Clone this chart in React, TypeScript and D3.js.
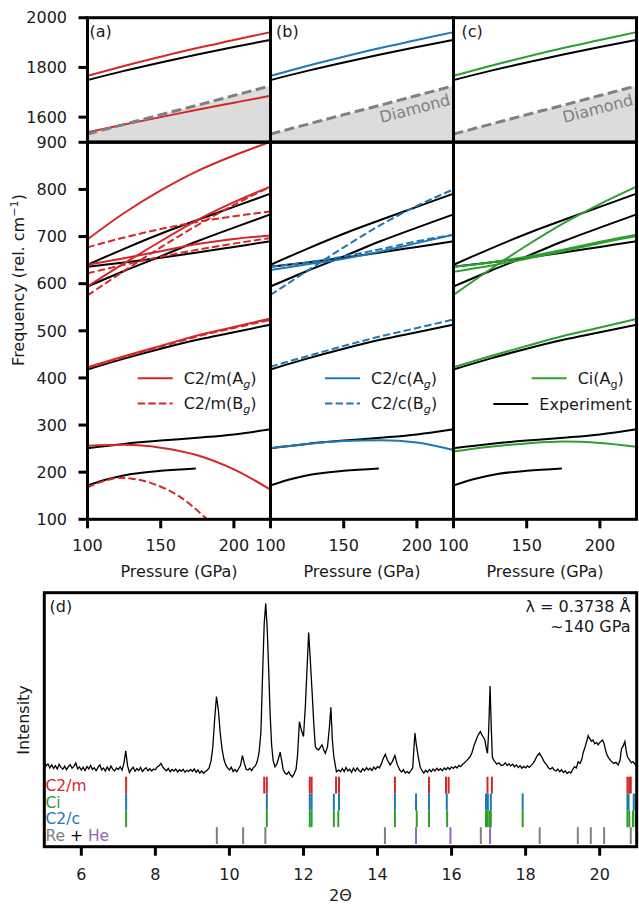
import React from 'react';
import * as d3 from 'd3';

const RED = '#d62728';
const BLUE = '#1f77b4';
const GREEN = '#2ca02c';
const GRAY = '#7f7f7f';
const PURPLE = '#9467bd';
const FONT = "'DejaVu Sans', sans-serif";
const FS = 16;

// pressure grid shared by the Raman branches (GPa)
const pressures = [100, 125, 150, 175, 200, 225];

// experiment (black), same in every panel
const expHigh = [1749, 1786, 1820, 1852, 1882, 1911];
const expLow = [
  [640, 674, 706, 735, 763, 791],
  [636, 645, 655, 666, 678, 690],
  [594, 627, 658, 690, 719, 747],
  [418, 441, 462, 481, 497, 513],
  [251, 260, 267, 273, 280, 291],
];
const expShortP = [100, 115, 130, 150, 174];
const expShortV = [172, 186, 196, 203, 208];

// diamond edge (upper segment)
const diamondEdge = [1532, 1571, 1610, 1648, 1687, 1726];

// C2/m
const c2mAgHigh = [
  [1766, 1806, 1843, 1878, 1910, 1942],
  [1539, 1570, 1600, 1630, 1658, 1686],
];
const c2mAgLow = [
  [694, 750, 798, 839, 872, 901],
  [640, 654, 669, 684, 695, 702],
  [594, 643, 690, 735, 773, 806],
  [423, 446, 468, 490, 508, 526],
  [256, 258, 252, 236, 206, 163],
];
const c2mBgLow = [
  [677, 698, 716, 731, 743, 753],
  [622, 640, 657, 672, 685, 697],
  [575, 627, 677, 724, 767, 806],
  [421, 444, 466, 488, 506, 523],
];
const c2mBgTailP = [100, 110, 122, 135, 147, 163, 181, 195];
const c2mBgTailV = [168, 180, 188, 184, 173, 148, 102, 60];

// C2/c
const c2cAgHigh = [[1766, 1806, 1843, 1878, 1910, 1942]];
const c2cAgLow = [
  [629, 641, 653, 668, 686, 704],
  [251, 260, 266, 268, 263, 247],
];
const c2cBgLow = [
  [636, 645, 658, 673, 690, 704],
  [576, 627, 677, 724, 765, 800],
  [424, 446, 468, 488, 506, 524],
];

// Ci
const ciAgHigh = [[1766, 1806, 1843, 1878, 1910, 1942]];
const ciAgLow = [
  [576, 630, 681, 728, 769, 806],
  [636, 645, 657, 672, 689, 704],
  [625, 638, 653, 669, 686, 701],
  [423, 446, 468, 489, 507, 525],
  [244, 254, 261, 265, 262, 254],
];

// XRD pattern, [2theta, intensity]
const xrd = [
  [5.00,33.5],[5.05,31.8],[5.10,32.6],[5.15,31.0],[5.20,32.2],[5.25,30.8],[5.30,31.9],[5.35,30.6],[5.40,32.4],[5.45,31.2],
  [5.50,30.5],[5.55,31.7],[5.60,30.3],[5.65,31.5],[5.70,32.3],[5.75,30.9],[5.80,31.6],[5.85,33.0],[5.90,30.7],[5.95,31.4],
  [6.00,30.2],[6.05,31.3],[6.10,30.0],[6.15,31.6],[6.20,30.6],[6.25,32.0],[6.30,30.4],[6.35,31.1],[6.40,29.9],[6.45,31.2],
  [6.50,32.2],[6.55,30.3],[6.60,31.0],[6.65,29.8],[6.70,31.4],[6.75,30.1],[6.80,31.8],[6.85,30.5],[6.90,29.9],[6.95,31.0],
  [7.00,30.4],[7.05,31.5],[7.10,30.2],[7.15,32.8],[7.20,37.7],[7.25,31.8],[7.30,29.2],[7.35,30.4],[7.40,31.3],[7.45,29.7],
  [7.50,30.8],[7.55,30.0],[7.60,31.2],[7.65,29.6],[7.70,30.5],[7.75,31.1],[7.80,29.9],[7.85,30.7],[7.90,29.8],[7.95,30.6],
  [8.00,30.3],[8.05,31.4],[8.10,31.9],[8.15,32.8],[8.20,31.4],[8.25,30.5],[8.30,29.9],[8.35,30.8],[8.40,29.5],[8.45,30.4],
  [8.50,29.8],[8.55,30.6],[8.60,29.4],[8.65,30.3],[8.70,29.7],[8.75,30.5],[8.80,29.3],[8.85,30.1],[8.90,29.6],[8.95,30.4],
  [9.00,29.7],[9.05,30.6],[9.10,29.3],[9.15,30.2],[9.20,29.0],[9.25,29.9],[9.30,28.9],[9.35,29.6],[9.40,30.1],[9.45,31.0],
  [9.50,33.5],[9.55,39.0],[9.60,50.0],[9.65,59.1],[9.70,54.0],[9.75,45.0],[9.80,38.5],[9.85,34.5],[9.90,32.2],[9.95,31.0],
  [10.00,30.2],[10.05,31.3],[10.10,29.6],[10.15,30.4],[10.20,29.5],[10.25,30.8],[10.30,32.0],[10.35,35.9],[10.40,33.0],[10.45,30.5],
  [10.50,30.2],[10.55,30.9],[10.60,30.0],[10.65,31.2],[10.70,31.8],[10.75,33.5],[10.80,37.0],[10.85,45.0],[10.90,70.0],[10.94,88.0],
  [10.98,95.8],[11.02,86.0],[11.06,70.0],[11.10,52.0],[11.14,40.0],[11.18,34.0],[11.23,31.5],[11.28,32.5],[11.33,35.0],[11.37,37.2],
  [11.41,34.0],[11.45,30.5],[11.50,29.0],[11.55,28.5],[11.60,29.5],[11.65,28.2],[11.70,27.5],[11.75,28.8],[11.80,30.5],[11.84,36.0],
  [11.89,49.2],[11.94,46.0],[12.00,43.4],[12.05,55.0],[12.09,68.2],[12.14,84.3],[12.19,72.0],[12.23,61.7],[12.28,48.0],[12.32,39.4],
  [12.36,38.5],[12.41,38.1],[12.45,39.0],[12.50,40.1],[12.55,38.0],[12.59,36.8],[12.65,39.4],[12.70,47.0],[12.74,54.9],[12.78,42.0],
  [12.82,35.4],[12.89,29.5],[12.95,30.2],[13.00,29.5],[13.05,30.8],[13.10,29.6],[13.15,31.2],[13.20,29.8],[13.25,30.5],[13.30,29.3],
  [13.35,30.9],[13.40,29.7],[13.45,31.0],[13.50,30.0],[13.55,29.4],[13.60,30.7],[13.65,29.9],[13.70,31.1],[13.75,30.2],[13.80,30.9],
  [13.85,30.0],[13.90,31.3],[13.95,30.5],[14.00,31.6],[14.05,31.0],[14.10,32.5],[14.15,34.5],[14.21,36.4],[14.27,34.0],[14.34,32.2],
  [14.40,33.5],[14.47,35.9],[14.53,32.5],[14.60,30.2],[14.65,29.4],[14.70,30.3],[14.75,29.0],[14.80,29.6],[14.85,28.9],[14.90,30.0],
  [14.95,31.0],[14.98,38.0],[15.01,44.7],[15.05,40.0],[15.10,35.4],[15.15,31.5],[15.19,30.2],[15.25,29.0],[15.30,30.1],[15.35,29.3],
  [15.40,30.4],[15.45,29.5],[15.50,30.6],[15.55,29.8],[15.60,30.9],[15.65,30.1],[15.70,30.7],[15.75,29.9],[15.80,31.0],[15.85,30.3],
  [15.90,31.2],[15.95,30.4],[16.00,31.4],[16.05,30.8],[16.10,31.6],[16.15,31.0],[16.20,32.0],[16.25,31.5],[16.30,32.5],[16.35,33.0],
  [16.40,33.8],[16.45,34.6],[16.50,35.4],[16.55,37.0],[16.60,39.5],[16.65,41.5],[16.70,43.4],[16.74,44.5],[16.78,45.3],[16.82,44.0],
  [16.86,43.0],[16.90,42.0],[16.94,38.5],[16.97,36.8],[17.00,45.0],[17.04,63.3],[17.07,48.0],[17.10,35.4],[17.14,34.0],[17.17,33.5],
  [17.22,32.5],[17.28,33.0],[17.34,32.0],[17.40,32.2],[17.45,33.0],[17.50,32.0],[17.55,32.6],[17.60,31.8],[17.65,32.5],[17.70,31.5],
  [17.75,32.2],[17.80,31.2],[17.85,31.9],[17.90,30.9],[17.95,31.6],[18.00,31.0],[18.05,31.8],[18.10,31.2],[18.15,32.0],[18.20,32.8],
  [18.25,34.0],[18.30,35.5],[18.37,36.8],[18.43,35.5],[18.48,34.0],[18.52,33.0],[18.57,32.2],[18.62,31.0],[18.67,30.5],[18.72,31.2],
  [18.77,30.2],[18.82,29.8],[18.87,30.6],[18.92,29.5],[18.97,30.3],[19.02,29.2],[19.07,29.9],[19.12,28.8],[19.17,29.5],[19.22,29.0],
  [19.27,30.3],[19.32,31.5],[19.37,31.0],[19.42,33.5],[19.47,32.8],[19.52,34.5],[19.55,36.8],[19.60,39.0],[19.65,41.5],[19.69,43.7],
  [19.73,42.5],[19.78,41.5],[19.82,42.0],[19.87,40.5],[19.92,41.0],[19.96,40.1],[20.00,41.0],[20.04,41.5],[20.08,42.0],[20.12,40.5],
  [20.18,36.8],[20.24,35.0],[20.32,33.5],[20.38,32.8],[20.44,33.2],[20.50,32.2],[20.55,34.0],[20.59,38.7],[20.63,39.5],[20.68,41.4],
  [20.72,37.5],[20.75,35.4],[20.81,34.1],[20.86,33.0],[20.90,33.5],[20.95,32.5],[21.00,32.2],
];

// reflection positions (2theta)
const c2mTicks = [7.21, 10.94, 11.01, 12.17, 12.22, 12.88, 12.96, 14.47, 15.39, 15.85, 15.92, 16.97, 17.09, 20.75, 20.80, 20.84];
const ciTicks = [7.21, 11.01, 12.17, 12.22, 12.82, 12.96, 14.47, 15.04, 15.39, 15.87, 16.93, 16.98, 17.06, 17.92, 20.75, 20.78, 20.92, 20.97];
const c2cTicks = [7.21, 11.01, 12.17, 12.22, 12.82, 12.94, 14.47, 15.06, 15.39, 15.88, 16.93, 16.97, 17.02, 17.06, 17.92, 20.75, 20.80, 20.90, 20.97];
const reTicks = [9.66, 10.37, 10.97, 14.2, 16.79, 18.38, 19.41, 19.76, 20.12, 20.84];
const heTicks = [15.04, 15.97, 17.04];

const pressureTicks = [100, 150, 200];
const highTicks = [1600, 1800, 2000];
const lowTicks = [100, 200, 300, 400, 500, 600, 700, 800, 900];
const thetaTicks = [6, 8, 10, 12, 14, 16, 18, 20];

const panelEdges = [[87.5, 270.5], [270.5, 453.5], [453.5, 636.5]];

const Sub = ({ base, sub, italic = true }) => (
  <>
    {base}
    <tspan dy={4} fontSize={11.2} fontStyle={italic ? 'italic' : 'normal'}>{sub}</tspan>
    <tspan dy={-4}>)</tspan>
  </>
);

const panels = [
  {
    label: '(a)', labelX: 89.5, color: RED,
    high: c2mAgHigh, solid: c2mAgLow, dashed: c2mBgLow, tail: true,
    legend: [
      { x: 137.7, y: 378.3, color: RED, dash: false, text: <Sub base="C2/m(A" sub="g" /> },
      { x: 137.7, y: 403.5, color: RED, dash: true, text: <Sub base="C2/m(B" sub="g" /> },
    ],
  },
  {
    label: '(b)', labelX: 276, color: BLUE,
    high: c2cAgHigh, solid: c2cAgLow, dashed: c2cBgLow, tail: false,
    legend: [
      { x: 325, y: 378.3, color: BLUE, dash: false, text: <Sub base="C2/c(A" sub="g" /> },
      { x: 325, y: 403.5, color: BLUE, dash: true, text: <Sub base="C2/c(B" sub="g" /> },
    ],
  },
  {
    label: '(c)', labelX: 461.5, color: GREEN,
    high: ciAgHigh, solid: ciAgLow, dashed: [], tail: false,
    legend: [
      { x: 531.7, y: 378.3, color: GREEN, dash: false, text: <Sub base="Ci(A" sub="g" italic={false} /> },
      { x: 493.3, y: 404, color: 'black', dash: false, text: 'Experiment' },
    ],
  },
];

export default function App() {
  const yHigh = d3.scaleLinear().domain([1500, 2000]).range([142, 17.7]);
  const yLow = d3.scaleLinear().domain([100, 900]).range([519.3, 142.3]);
  const xT = d3.scaleLinear().domain([5, 21]).range([44.3, 636.7]);
  const yI = d3.scaleLinear().domain([0, 100]).range([846.7, 592.7]);
  const diaAt = d3.scaleLinear().domain(pressures).range(diamondEdge);

  const curve = (ps, vs, x, y) =>
    d3.line().x((d) => x(d[0])).y((d) => y(d[1])).curve(d3.curveMonotoneX)(ps.map((p, i) => [p, vs[i]]));

  const rowBand = d3.scaleBand().domain(['C2/m', 'Ci', 'C2/c', 'Re']).range([776.7, 844]);
  const tickRows = [
    { row: 'C2/m', ticks: c2mTicks, color: RED },
    { row: 'Ci', ticks: ciTicks, color: BLUE },
    { row: 'C2/c', ticks: c2cTicks, color: GREEN },
    { row: 'Re', ticks: reTicks, color: GRAY },
    { row: 'Re', ticks: heTicks, color: PURPLE },
  ];

  const xrdLine = d3.line().x((d) => xT(d[0])).y((d) => yI(d[1]))(xrd);
  const rowY = (r) => rowBand(r) + rowBand.bandwidth() / 2 + 5.6;

  return (
    <div style={{ position: 'absolute', left: 0, top: 0 }}>
      <svg width={639} height={907} style={{ display: 'block', fontFamily: FONT }}>
        <rect width={639} height={907} fill="white" />
        {panels.map((pn, i) => {
          const [L, R] = panelEdges[i];
          const x = d3.scaleLinear().domain([100, 225]).range([L, R]);
          const area = d3.area().x((d) => x(d[0])).y0(yHigh(1500)).y1((d) => yHigh(d[1]))(
            pressures.map((p, k) => [p, diamondEdge[k]])
          );
          const ang = (Math.atan2(yHigh(diamondEdge[5]) - yHigh(diamondEdge[0]), x(225) - x(100)) * 180) / Math.PI;
          const lp = 196.5;
          return (
            <g key={i}>
              <defs>
                <clipPath id={`hi${i}`}><rect x={L} y={yHigh(2000)} width={R - L} height={yHigh(1500) - yHigh(2000)} /></clipPath>
                <clipPath id={`lo${i}`}><rect x={L} y={yLow(900)} width={R - L} height={yLow(100) - yLow(900)} /></clipPath>
              </defs>
              <g clipPath={`url(#hi${i})`} fill="none">
                <path d={area} fill="#dcdcdc" />
                <path d={curve(pressures, expHigh, x, yHigh)} stroke="black" strokeWidth={2} />
                {pn.high.map((v, k) => (
                  <path key={k} d={curve(pressures, v, x, yHigh)} stroke={pn.color} strokeWidth={2} />
                ))}
                <path d={curve(pressures, diamondEdge, x, yHigh)} stroke="#808080" strokeWidth={3} strokeDasharray="10 4.5" />
                {i > 0 && (
                  <text
                    transform={`translate(${x(lp)},${yHigh(diaAt(lp))}) rotate(${ang})`}
                    y={12} dy="0.35em" textAnchor="middle" fontSize={FS} fill="#808080" stroke="none"
                  >Diamond</text>
                )}
              </g>
              <g clipPath={`url(#lo${i})`} fill="none">
                {expLow.map((v, k) => (
                  <path key={k} d={curve(pressures, v, x, yLow)} stroke="black" strokeWidth={2} />
                ))}
                <path d={curve(expShortP, expShortV, x, yLow)} stroke="black" strokeWidth={2} />
                {pn.solid.map((v, k) => (
                  <path key={'s' + k} d={curve(pressures, v, x, yLow)} stroke={pn.color} strokeWidth={2} />
                ))}
                {pn.dashed.map((v, k) => (
                  <path key={'d' + k} d={curve(pressures, v, x, yLow)} stroke={pn.color} strokeWidth={2} strokeDasharray="7.4 3.2" />
                ))}
                {pn.tail && (
                  <path d={curve(c2mBgTailP, c2mBgTailV, x, yLow)} stroke={pn.color} strokeWidth={2} strokeDasharray="7.4 3.2" />
                )}
              </g>
              {/* legend */}
              {pn.legend.map((e, k) => (
                <g key={k}>
                  <line x1={e.x} x2={e.x + 35} y1={e.y} y2={e.y} stroke={e.color} strokeWidth={2}
                    strokeDasharray={e.dash ? '7.4 3.2' : undefined} />
                  <text x={e.x + 46} y={e.y + 5.8} fontSize={FS} fill="#1a1a1a">{e.text}</text>
                </g>
              ))}
              {/* spines */}
              <rect x={L} y={yHigh(2000)} width={R - L} height={yHigh(1500) - yHigh(2000)} fill="none" stroke="black" strokeWidth={3} />
              <rect x={L} y={yLow(900)} width={R - L} height={yLow(100) - yLow(900)} fill="none" stroke="black" strokeWidth={3} />
              <text x={pn.labelX} y={36.5} fontSize={FS} fill="#1a1a1a">{pn.label}</text>
              {/* x axis */}
              {pressureTicks.map((t) => (
                <g key={t}>
                  <line x1={x(t)} x2={x(t)} y1={yLow(100)} y2={yLow(100) + 9} stroke="black" strokeWidth={3} />
                  <text x={x(t)} y={551} textAnchor="middle" fontSize={FS} fill="#1a1a1a">{t}</text>
                </g>
              ))}
              <text x={(L + R) / 2} y={577} textAnchor="middle" fontSize={FS} fill="#1a1a1a">Pressure (GPa)</text>
              {i === 0 && (
                <g>
                  {highTicks.map((t) => (
                    <g key={t}>
                      <line x1={L - 9} x2={L} y1={yHigh(t)} y2={yHigh(t)} stroke="black" strokeWidth={3} />
                      <text x={67} y={yHigh(t) + 5.7} textAnchor="end" fontSize={FS} fill="#1a1a1a">{t}</text>
                    </g>
                  ))}
                  {lowTicks.map((t) => (
                    <g key={t}>
                      <line x1={L - 9} x2={L} y1={yLow(t)} y2={yLow(t)} stroke="black" strokeWidth={3} />
                      <text x={67} y={yLow(t) + 5.7} textAnchor="end" fontSize={FS} fill="#1a1a1a">{t}</text>
                    </g>
                  ))}
                </g>
              )}
            </g>
          );
        })}
        <text transform="translate(24,280) rotate(-90)" textAnchor="middle" fontSize={FS} fill="#1a1a1a">
          Frequency (rel. cm<tspan dy={-6} fontSize={11.2}>−1</tspan><tspan dy={6}>)</tspan>
        </text>

        {/* XRD panel */}
        <defs>
          <clipPath id="xrdclip"><rect x={xT(5)} y={yI(100)} width={xT(21) - xT(5)} height={yI(0) - yI(100)} /></clipPath>
        </defs>
        <path d={xrdLine} fill="none" stroke="black" strokeWidth={1.3} clipPath="url(#xrdclip)" />
        {tickRows.map((r, k) => (
          <g key={k}>
            {r.ticks.map((t, j) => (
              <line key={j} x1={xT(t)} x2={xT(t)} y1={rowBand(r.row)} y2={rowBand(r.row) + rowBand.bandwidth()}
                stroke={r.color} strokeWidth={2} />
            ))}
          </g>
        ))}
        <g fontSize={15.5}>
          <text x={45.5} y={rowY('C2/m')} fill={RED}>C2/m</text>
          <text x={45.5} y={rowY('Ci')} fill={GREEN}>Ci</text>
          <text x={45.5} y={rowY('C2/c')} fill={BLUE}>C2/c</text>
          <text x={45.5} y={rowY('Re')} xmlSpace="preserve">
            <tspan fill={GRAY}>Re</tspan><tspan fill="black"> + </tspan><tspan fill={PURPLE}>He</tspan>
          </text>
        </g>
        <rect x={xT(5)} y={yI(100)} width={xT(21) - xT(5)} height={yI(0) - yI(100)} fill="none" stroke="black" strokeWidth={3} />
        {thetaTicks.map((t) => (
          <g key={t}>
            <line x1={xT(t)} x2={xT(t)} y1={yI(0)} y2={yI(0) + 9} stroke="black" strokeWidth={3} />
            <text x={xT(t)} y={879.5} textAnchor="middle" fontSize={FS} fill="#1a1a1a">{t}</text>
          </g>
        ))}
        <text x={49.5} y={611.5} fontSize={FS} fill="#1a1a1a">(d)</text>
        <text x={630.5} y={611.5} textAnchor="end" fontSize={FS} fill="#1a1a1a">λ = 0.3738 Å</text>
        <text x={630.5} y={631.5} textAnchor="end" fontSize={FS} fill="#1a1a1a">~140 GPa</text>
        <text x={xT(13)} y={900.5} textAnchor="middle" fontSize={FS} fill="#1a1a1a">2Θ</text>
        <text transform="translate(28.5,720) rotate(-90)" textAnchor="middle" fontSize={FS} fill="#1a1a1a">Intensity</text>
      </svg>
    </div>
  );
}
